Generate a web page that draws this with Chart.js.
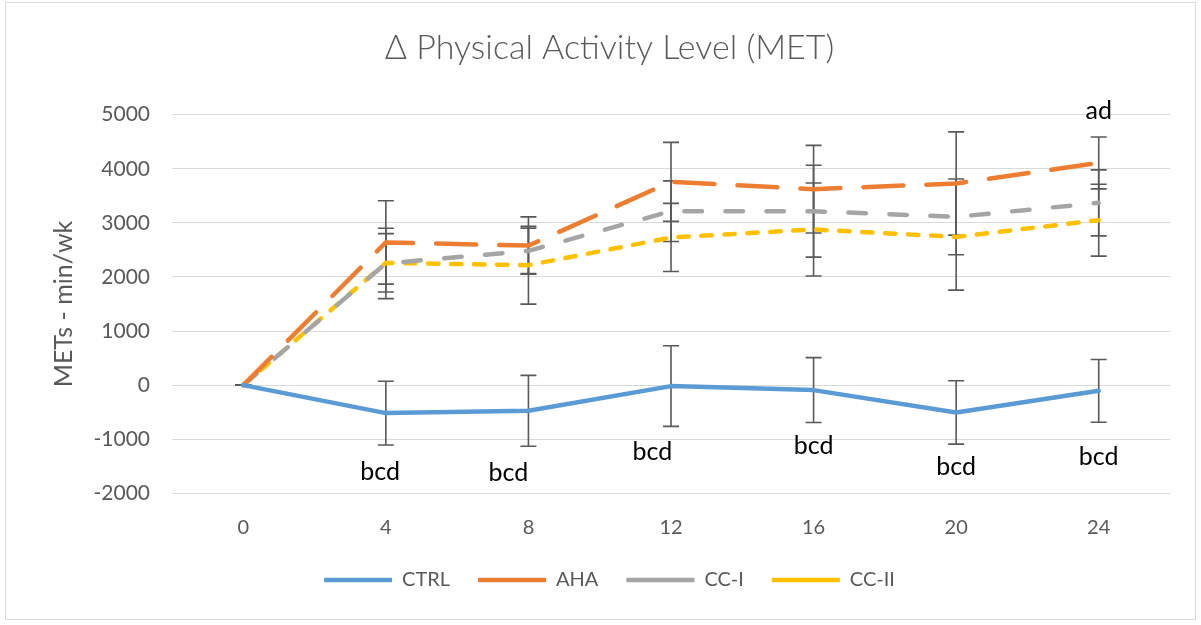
<!DOCTYPE html>
<html>
<head>
<meta charset="utf-8">
<script src="https://cdn.jsdelivr.net/npm/chart.js@4.4.1/dist/chart.umd.min.js"></script>
<style>
  html, body { margin: 0; padding: 0; background: #ffffff; }
  #wrap { position: relative; width: 1201px; height: 625px; }
</style>
</head>
<body>
<div id="wrap"><canvas id="chart" width="1201" height="625"></canvas></div>
<script>
// Weeks of follow-up
const weeks = ['0', '4', '8', '12', '16', '20', '24'];

// Change in physical activity (MET-min/wk), mean per group
const ctrl = [0, -517, -475, -18, -92, -505, -105];
const aha  = [0, 2638, 2580, 3758, 3623, 3728, 4109];
const cc1  = [0, 2250, 2482, 3216, 3216, 3111, 3370];
const cc2  = [0, 2261, 2218, 2730, 2878, 2741, 3050];

// Standard deviations (error bars)
const ctrlErr = [0, 590, 655, 745, 600, 585, 580];
const ahaErr  = [0, 770, 530, 730, 810, 955, 480];
const cc1Err  = [0, 650, 420, 560, 850, 700, 610];
const cc2Err  = [0, 540, 720, 630, 860, 985, 665];

// Significance letters
const ctrlNotes = ['', 'bcd', 'bcd', 'bcd', 'bcd', 'bcd', 'bcd'];
const ctrlNoteAt = [null, -1608, -1627, -1238, -1128, -1516, -1331];
const ctrlNoteShift = [0, -0.04, -0.14, -0.13, 0, 0, 0];
const ahaNotes = ['', '', '', '', '', '', 'ad'];
const ahaNoteAt = [null, null, null, null, null, null, 5065];

const yTicks = [-2000, -1000, 0, 1000, 2000, 3000, 4000, 5000];

const errorSets = [ctrlErr, ahaErr, cc1Err, cc2Err];
const FONT = 'Lato, "Open Sans", "Liberation Sans", sans-serif';
const GREY_TEXT = '#595959';

// Outer frame of the chart
const frame = {
  id: 'frame',
  beforeDraw(chart) {
    const ctx = chart.ctx;
    ctx.save();
    ctx.fillStyle = '#ffffff';
    ctx.fillRect(0, 0, chart.width, chart.height);
    ctx.strokeStyle = '#d9d9d9';
    ctx.lineWidth = 1;
    ctx.strokeRect(5.5, 2.5, 1190, 617);
    ctx.restore();
  }
};

// Vertical error bars with caps, drawn beneath the lines
const errorBars = {
  id: 'errorBars',
  beforeDatasetsDraw(chart) {
    const { ctx, scales: { x, y } } = chart;
    ctx.save();
    ctx.strokeStyle = '#595959';
    ctx.lineWidth = 1.6;
    chart.data.datasets.forEach((ds, di) => {
      const errs = errorSets[di];
      ds.data.forEach((v, i) => {
        const px = x.getPixelForValue(i);
        const pt = y.getPixelForValue(v + errs[i]);
        const pb = y.getPixelForValue(v - errs[i]);
        ctx.beginPath();
        ctx.moveTo(px, pt); ctx.lineTo(px, pb);
        ctx.moveTo(px - 8, pt); ctx.lineTo(px + 8, pt);
        ctx.moveTo(px - 8, pb); ctx.lineTo(px + 8, pb);
        ctx.stroke();
      });
    });
    ctx.restore();
  }
};

// Significance letters next to the group means
const notes = {
  id: 'notes',
  afterDatasetsDraw(chart) {
    const { ctx, scales: { x, y } } = chart;
    ctx.save();
    ctx.fillStyle = '#000000';
    ctx.font = '25px ' + FONT;
    ctx.textAlign = 'center';
    ctx.textBaseline = 'middle';
    ctrlNotes.forEach((t, i) => {
      if (!t) return;
      ctx.fillText(t, x.getPixelForValue(i + ctrlNoteShift[i]), y.getPixelForValue(ctrlNoteAt[i]));
    });
    ahaNotes.forEach((t, i) => {
      if (!t) return;
      ctx.fillText(t, x.getPixelForValue(i), y.getPixelForValue(ahaNoteAt[i]));
    });
    ctx.restore();
  }
};

const lineCommon = {
  borderWidth: 4.5,
  borderCapStyle: 'round',
  borderJoinStyle: 'round',
  pointRadius: 0,
  pointHoverRadius: 0,
  tension: 0,
  fill: false
};

new Chart(document.getElementById('chart'), {
  type: 'line',
  data: {
    labels: weeks,
    datasets: [
      Object.assign({ label: 'CTRL', data: ctrl, borderColor: '#5B9BD5', backgroundColor: '#5B9BD5' }, lineCommon),
      Object.assign({ label: 'AHA', data: aha, borderColor: '#ED7D31', backgroundColor: '#ED7D31', borderDash: [40, 23] }, lineCommon),
      Object.assign({ label: 'CC-I', data: cc1, borderColor: '#A5A5A5', backgroundColor: '#A5A5A5', borderDash: [17.5, 23.5] }, lineCommon),
      Object.assign({ label: 'CC-II', data: cc2, borderColor: '#FFC000', backgroundColor: '#FFC000', borderDash: [10.5, 12.5] }, lineCommon)
    ]
  },
  options: {
    responsive: false,
    animation: false,
    devicePixelRatio: 1,
    layout: { padding: { left: 49, right: 31, top: 0, bottom: 25 } },
    plugins: {
      title: {
        display: true,
        text: '\u0394 Physical Activity Level (MET)',
        color: GREY_TEXT,
        font: { family: FONT, size: 34, weight: '300' },
        padding: { top: 27.6, bottom: 46.3 }
      },
      legend: {
        position: 'bottom',
        labels: {
          usePointStyle: true,
          pointStyle: 'line',
          pointStyleWidth: 68,
          padding: 28,
          color: GREY_TEXT,
          font: { family: FONT, size: 20 }
        }
      },
      tooltip: { enabled: false }
    },
    scales: {
      x: {
        offset: true,
        grid: { display: false, drawTicks: false, offset: true },
        border: { display: false },
        ticks: { color: GREY_TEXT, font: { family: FONT, size: 20 }, padding: 22 },
        afterFit(scale) { scale.height = 48.7; }
      },
      y: {
        min: -2000,
        max: 5000,
        afterBuildTicks(scale) { scale.ticks = yTicks.map(v => ({ value: v })); },
        grid: { color: '#d9d9d9', lineWidth: 1, drawTicks: false },
        border: { display: false },
        ticks: {
          color: GREY_TEXT,
          font: { family: FONT, size: 21 },
          padding: 22,
          callback: (v) => String(v)
        },
        title: {
          display: true,
          text: 'METs - min/wk',
          color: GREY_TEXT,
          font: { family: FONT, size: 25 },
          padding: 0
        },
        afterFit(scale) { scale.width = 123; }
      }
    }
  },
  plugins: [frame, errorBars, notes]
});
</script>
</body>
</html>
